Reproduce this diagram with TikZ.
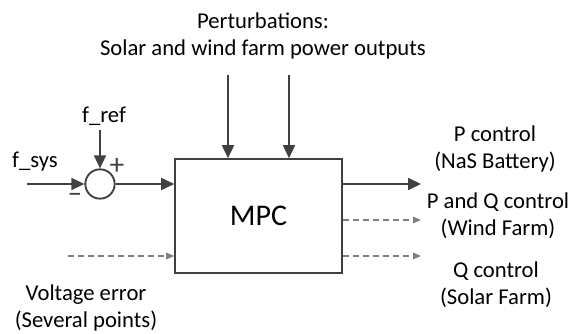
\documentclass[tikz,border=0pt]{standalone}
\usepackage{fontspec}
\setmainfont{Carlito}
\usetikzlibrary{arrows.meta}
\definecolor{dk}{HTML}{404040}
\definecolor{lt}{HTML}{808080}
\tikzset{
  lbl/.style={font=\fontsize{17}{20.5}\selectfont, align=center, text=black, inner sep=0pt},
  sgn/.style={font=\fontsize{22}{24}\selectfont, text=dk, inner sep=0pt},
  solidarr/.style={draw=dk, line width=1.3pt, -{Triangle[length=9.75pt,width=9pt]}},
  dasharr/.style={draw=lt, line width=0.8pt, dash pattern=on 4.5pt off 3pt, -{Triangle[length=6pt,width=5pt]}},
}
\begin{document}
\begin{tikzpicture}[x=0.75pt,y=-0.75pt]
\useasboundingbox (0,0) rectangle (576,334);
% blocks
\node[draw=dk, line width=1.2pt, minimum width=125.25pt, minimum height=85.5pt, inner sep=0pt,
      font=\fontsize{22.5}{26}\selectfont] (mpc) at (258.5,216) {MPC};
\node[draw=dk, line width=1.4pt, circle, minimum size=22pt, inner sep=0pt] (sum) at (100,184) {};
% labels
\node[lbl] (pert) at (263,36) {Perturbations:\\Solar and wind farm power outputs};
\node[lbl] (fsys) at (35,162) {f\_sys};
\node[lbl] (fref) at (104,116) {f\_ref};
\node[sgn] (plus) at (117,166) {+};
\node[sgn] (minus) at (75,198) {–};
\node[lbl] (o1) at (495,149) {P control\\(NaS Battery)};
\node[lbl] (o2) at (498,216) {P and Q control\\(Wind Farm)};
\node[lbl] (o3) at (496,285) {Q control\\(Solar Farm)};
\node[lbl] (verr) at (86,308) {Voltage error\\(Several points)};
% coordinates
\coordinate (fsysS) at (27,184);
\coordinate (frefS) at (100,130);
\coordinate (p1S) at (228,75);
\coordinate (p2S) at (289,75);
\coordinate (o1E) at (421,184);
\coordinate (o2E) at (421,220);
\coordinate (o3E) at (421,256);
\coordinate (vS) at (68,256);
% connectors
\draw[solidarr] (fsysS) -- (sum.west);
\draw[solidarr] (frefS) -- (sum.north);
\draw[solidarr] (sum.east) -- (sum.east -| mpc.west);
\draw[solidarr] (p1S) -- (p1S |- mpc.north);
\draw[solidarr] (p2S) -- (p2S |- mpc.north);
\draw[solidarr] (o1E -| mpc.east) -- (o1E);
\draw[dasharr] (o2E -| mpc.east) -- (o2E);
\draw[dasharr] (o3E -| mpc.east) -- (o3E);
\draw[dasharr] (vS) -- (vS -| mpc.west);
\end{tikzpicture}
\end{document}
